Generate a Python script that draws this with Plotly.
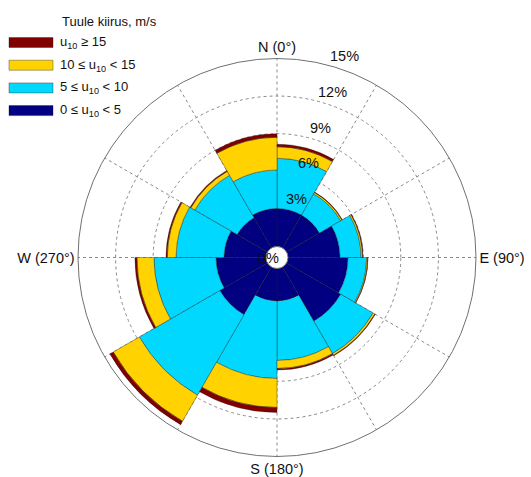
import math
import plotly.graph_objects as go

# Wind rose: frequency (%) of 10 m wind speed by direction sector (30 deg bins)
sector_centres = [15, 45, 75, 105, 135, 165, 195, 225, 255, 285, 315, 345]
sector_width = 30

speed_0_5 = [3.03, 3.03, 4.15, 4.79, 4.99, 2.59, 2.59, 4.39, 3.99, 3.35, 2.79, 3.03]
speed_5_10 = [4.01, 1.96, 1.68, 1.49, 2.99, 4.75, 6.19, 7.42, 4.95, 3.83, 3.91, 3.08]
speed_10_15 = [0.92, 0.12, 0.12, 0.08, 0.16, 0.64, 2.31, 2.40, 1.36, 0.70, 0.36, 2.61]
speed_15_up = [0.20, 0.04, 0.04, 0.02, 0.04, 0.12, 0.40, 0.31, 0.16, 0.10, 0.08, 0.28]

bin_names = [
    "0 \u2264 u<sub>10</sub> < 5",
    "5 \u2264 u<sub>10</sub> < 10",
    "10 \u2264 u<sub>10</sub> < 15",
    "u<sub>10</sub> \u2265 15",
]
bin_colors = ["#000080", "#00D8FF", "#FFD200", "#800000"]
legend_title = "Tuule kiirus, m/s"

radial_max = 15
radial_ticks = [3, 6, 9, 12, 15]
radial_tick_text = ["3%", "6%", "9%", "12%", "15%"]
centre_label = "0%"

compass_vals = list(range(0, 360, 30))
compass_text = ["N (0\u00b0)", "", "", "E (90\u00b0)", "", "", "S (180\u00b0)", "", "",
                "W (270\u00b0)", "", ""]

W, H = 531, 477
FONT = "Liberation Sans, Arial, sans-serif"
EDGE = "rgba(30,30,30,0.75)"
GRID = "#8a8a8a"

# polar frame geometry (pixels)
cx, cy, R = 277, 257.5, 199
HOLE_PX = 11


def px(x):
    return x / W


def py(y):
    return 1 - y / H


def polar_to_paper(value, bearing):
    """Paper position of a radial value along a compass bearing."""
    rp = HOLE_PX + value / radial_max * (R - HOLE_PX)
    b = math.radians(bearing)
    return px(cx + rp * math.sin(b)), py(cy - rp * math.cos(b))


fig = go.Figure()

for vals, name, col in zip([speed_0_5, speed_5_10, speed_10_15, speed_15_up],
                           bin_names, bin_colors):
    fig.add_trace(go.Barpolar(
        r=vals, theta=sector_centres, width=[sector_width] * len(vals),
        name=name, marker_color=col,
        marker_line_color=EDGE, marker_line_width=0.5,
        showlegend=False, hoverinfo="skip",
    ))

fig.update_layout(
    width=W, height=H,
    margin=dict(l=0, r=0, t=0, b=0),
    paper_bgcolor="white",
    font=dict(family=FONT, color="#111"),
    polar=dict(
        domain=dict(x=[px(cx - R), px(cx + R)], y=[py(cy + R), py(cy - R)]),
        hole=HOLE_PX / R,
        bgcolor="white",
        barmode="stack",
        radialaxis=dict(
            range=[0, radial_max], tickvals=radial_ticks[:-1], showticklabels=False,
            ticks="", showline=False, gridcolor=GRID, griddash="dot",
            gridwidth=0.8, layer="above traces",
        ),
        angularaxis=dict(
            rotation=90, direction="clockwise",
            tickmode="array", tickvals=compass_vals, ticktext=compass_text,
            ticks="", showline=True, linecolor="#707070", linewidth=1,
            gridcolor=GRID, griddash="dot", gridwidth=0.8,
            tickfont=dict(family=FONT, size=14.5, color="#111"),
            layer="above traces",
        ),
    ),
)

annotations = []

# percentage labels along the ~18.5 deg spoke, just outside each ring
label_offset = 1.05
for t, txt in zip(radial_ticks, radial_tick_text):
    x, y = polar_to_paper(t + label_offset, 18.5)
    annotations.append(dict(
        x=x, y=y, xref="paper", yref="paper", text=txt, showarrow=False,
        xanchor="center", yanchor="middle",
        font=dict(family=FONT, size=14.5, color="#111"),
    ))
x0, y0 = polar_to_paper(0, 270)
annotations.append(dict(
    x=x0, y=y0, xref="paper", yref="paper", text=centre_label, showarrow=False,
    xanchor="center", yanchor="middle", xshift=2,
    font=dict(family=FONT, size=14.5, color="#111"),
))

# legend block in the upper-left corner
shapes = []
annotations.append(dict(
    x=px(60), y=py(21.5), xref="paper", yref="paper", text=legend_title,
    showarrow=False, xanchor="left", yanchor="middle",
    font=dict(family=FONT, size=13, color="#111"),
))
for i, (name, col) in enumerate(zip(reversed(bin_names), reversed(bin_colors))):
    yc = 42.5 + 22.7 * i
    shapes.append(dict(
        type="rect", xref="paper", yref="paper",
        x0=px(9), x1=px(53), y0=py(yc + 5), y1=py(yc - 5),
        fillcolor=col, line=dict(color=EDGE, width=0.5),
    ))
    annotations.append(dict(
        x=px(58), y=py(yc), xref="paper", yref="paper", text=name,
        showarrow=False, xanchor="left", yanchor="middle",
        font=dict(family=FONT, size=13, color="#111"),
    ))
fig.update_layout(shapes=shapes, annotations=annotations)

fig.write_html("out.html")
